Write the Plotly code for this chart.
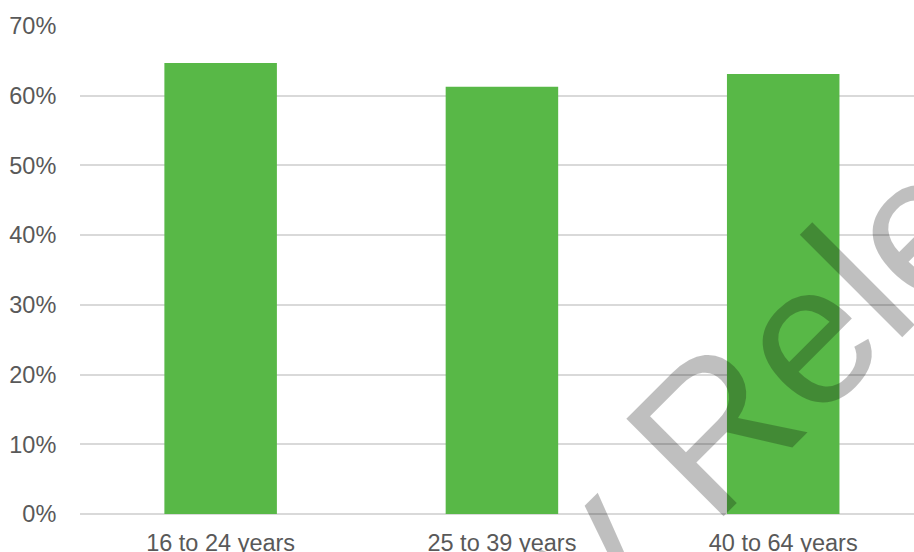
import plotly.graph_objects as go

# Share by age group
age_groups = ["16 to 24 years", "25 to 39 years", "40 to 64 years"]
shares = [0.647, 0.613, 0.631]

y_ticks = [0, 0.1, 0.2, 0.3, 0.4, 0.5, 0.6, 0.7]
y_tick_labels = ["0%", "10%", "20%", "30%", "40%", "50%", "60%", "70%"]

BAR_GREEN = "#58B847"
GRID = "#D9D9D9"
TEXT = "#595959"
FONT = "Liberation Sans, Arial, sans-serif"

fig = go.Figure(
    go.Bar(
        x=list(range(len(age_groups))),
        y=shares,
        marker=dict(color=BAR_GREEN, line=dict(width=0)),
        width=0.4,
    )
)

fig.update_layout(
    width=914,
    height=552,
    margin=dict(l=80, r=0, t=26, b=38),
    paper_bgcolor="white",
    plot_bgcolor="white",
    showlegend=False,
    font=dict(family=FONT, size=23.5, color=TEXT),
    bargap=0.6,
)

fig.update_xaxes(
    range=[-0.5, 2.465],
    tickmode="array",
    tickvals=list(range(len(age_groups))),
    ticktext=age_groups,
    showgrid=False,
    showline=False,
    zeroline=False,
    ticks="outside",
    ticklen=8,
    tickcolor="rgba(0,0,0,0)",
    tickfont=dict(family=FONT, size=23.5, color=TEXT),
    automargin=False,
)

fig.update_yaxes(
    range=[0, 0.7],
    tickmode="array",
    tickvals=y_ticks,
    ticktext=y_tick_labels,
    showgrid=True,
    gridcolor=GRID,
    gridwidth=1.5,
    zeroline=True,
    zerolinecolor=GRID,
    zerolinewidth=1.5,
    showline=False,
    ticks="outside",
    ticklen=18,
    tickcolor="rgba(0,0,0,0)",
    tickfont=dict(family=FONT, size=23.5, color=TEXT),
    automargin=False,
)

# Diagonal watermark across the chart
fig.add_annotation(
    text="Preliminary Release",
    xref="paper",
    yref="paper",
    x=0.562,
    y=-0.16,
    xanchor="center",
    yanchor="middle",
    textangle=-45,
    showarrow=False,
    font=dict(family=FONT, size=200, color="rgba(0,0,0,0.25)"),
)

fig.write_html("out.html")
